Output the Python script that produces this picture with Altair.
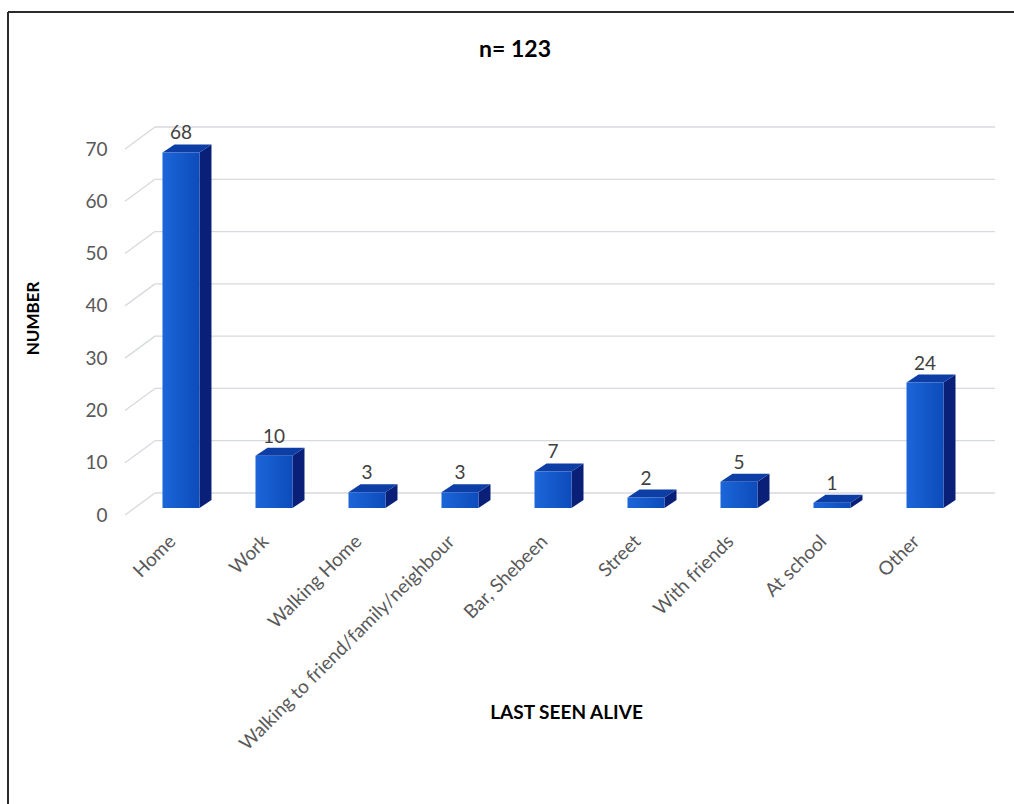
import json

import altair as alt
import pandas as pd

# ---- data -------------------------------------------------------------
categories = [
    "Home",
    "Work",
    "Walking Home",
    "Walking to friend/family/neighbour",
    "Bar, Shebeen",
    "Street",
    "With friends",
    "At school",
    "Other",
]
counts = [68, 10, 3, 3, 7, 2, 5, 1, 24]
y_ticks = [0, 10, 20, 30, 40, 50, 60, 70]
chart_title = "n= 123"
x_title = "LAST SEEN ALIVE"
y_title = "NUMBER"

# ---- geometry / style -------------------------------------------------
W, H = 840, 366                      # plot area
PAD = {"left": 125, "top": 149, "right": 1014 - 125 - W, "bottom": 804 - 149 - H}
X_MIN, X_MAX = -0.602, 8.43
Y_MAX = 70
PX_X = W / (X_MAX - X_MIN)
PX_Y = H / Y_MAX
HALF = 18.5 / PX_X                   # half width of a bar's front face
DDX = 12 / PX_X                      # bar depth, x
DDY = 8 / PX_Y                       # bar depth, y
LIFT = -7                            # bar front plane above the axis plane (px)
WALL_DX, WALL_DY = 30, -22           # back wall offset (px)

FONT = "Lato"
FRONT_L, FRONT_R = "#1c66d9", "#0d4bbb"
TOP_C = "#0c3ea6"
SIDE_C = "#0a1f78"
GRID_C = "#d6d9de"

xs = alt.Scale(domain=[X_MIN, X_MAX], nice=False, zero=False)
ys = alt.Scale(domain=[0, Y_MAX], nice=False)

idx = list(range(len(categories)))
label_expr = json.dumps(categories) + "[datum.value]"

# one axis definition per channel, shared by every layer
x_axis = alt.Axis(
    values=idx, labelExpr=label_expr, title=x_title,
    labelAngle=-45, labelAlign="right", labelBaseline="middle",
    labelPadding=23, labelOffset=-9, labelFont=FONT, labelFontSize=19,
    labelColor="#595959", labelOverlap=False, labelBound=False, labelFlush=False,
    labelLimit=0, ticks=False, domain=False, grid=False,
    titleFont=FONT, titleFontSize=19, titleFontWeight="bold", titleColor="#000000",
    titleX=441, titleY=197, titleAlign="center", titleBaseline="middle",
)
y_axis = alt.Axis(
    values=y_ticks, title=y_title, labelFont=FONT, labelFontSize=19,
    labelColor="#595959", labelPadding=18, ticks=False, domain=False, grid=False,
    titleFont=FONT, titleFontSize=17, titleFontWeight="bold", titleColor="#000000",
    titleAngle=270, titleX=-92, titleY=169, titleAlign="center", titleBaseline="middle",
)


def X(field):
    return alt.X(field, scale=xs, axis=x_axis, title=x_title)


def Y(field):
    return alt.Y(field, scale=ys, axis=y_axis, title=y_title)


# ---- tables built from the arrays -------------------------------------
front = pd.DataFrame({
    "i": idx, "cat": categories, "n": counts,
    "l": [i - HALF for i in idx], "r": [i + HALF for i in idx],
})
side_rows, top_rows = [], []
for i, n in zip(idx, counts):
    side_rows.append({"i": i, "x": i + HALF, "y": n, "y2": 0})
    side_rows.append({"i": i, "x": i + HALF + DDX, "y": n + DDY, "y2": DDY})
    top_rows.append({"i": i, "y": n, "x": i - HALF, "x2": i + HALF})
    top_rows.append({"i": i, "y": n + DDY, "x": i - HALF + DDX, "x2": i + HALF + DDX})
side = pd.DataFrame(side_rows)
top = pd.DataFrame(top_rows)
grid = pd.DataFrame({"v": y_ticks, "a": X_MIN, "b": X_MAX})

# ---- layers -----------------------------------------------------------
wall = alt.Chart(grid).mark_rule(
    color=GRID_C, strokeWidth=1.3, xOffset=WALL_DX, x2Offset=WALL_DX, yOffset=WALL_DY
).encode(x=X("a:Q"), x2="b:Q", y=Y("v:Q"))

diag = alt.Chart(grid).mark_rule(
    color=GRID_C, strokeWidth=1.3, x2Offset=WALL_DX, y2Offset=WALL_DY
).encode(x=X("a:Q"), x2="a:Q", y=Y("v:Q"), y2="v:Q")

side_face = alt.Chart(side).mark_area(
    orient="vertical", color=SIDE_C, yOffset=LIFT, y2Offset=LIFT
).encode(x=X("x:Q"), y=Y("y:Q"), y2="y2:Q", detail="i:N")

top_face = alt.Chart(top).mark_area(
    orient="horizontal", color=TOP_C, yOffset=LIFT
).encode(y=Y("y:Q"), x=X("x:Q"), x2="x2:Q", detail="i:N")

front_face = alt.Chart(front).mark_rect(
    yOffset=LIFT, y2Offset=LIFT,
    color=alt.Gradient(
        gradient="linear",
        stops=[alt.GradientStop(color=FRONT_L, offset=0),
               alt.GradientStop(color=FRONT_R, offset=1)],
        x1=0, x2=1, y1=0, y2=0,
    ),
).encode(x=X("l:Q"), x2="r:Q", y=Y("n:Q"), y2=alt.datum(0))

values = alt.Chart(front).mark_text(
    font=FONT, fontSize=19, color="#404040", baseline="middle", dy=-26
).encode(x=X("i:Q"), y=Y("n:Q"), text="n:Q")

heading = alt.Chart(pd.DataFrame({"t": [chart_title]})).mark_text(
    font=FONT, fontSize=23, fontWeight="bold", color="#000000", baseline="middle"
).encode(x=alt.value(515 - PAD["left"]), y=alt.value(50 - PAD["top"]), text="t:N")

# frame around the figure
frame_top = alt.Chart(pd.DataFrame({"k": [0]})).mark_rule(color="#2b2b2b", strokeWidth=2).encode(
    x=alt.value(8 - PAD["left"]), x2=alt.value(1014 - PAD["left"] + 20), y=alt.value(12 - PAD["top"])
)
frame_left = alt.Chart(pd.DataFrame({"k": [0]})).mark_rule(color="#2b2b2b", strokeWidth=2).encode(
    x=alt.value(8 - PAD["left"]), y=alt.value(12 - PAD["top"]), y2=alt.value(804 - PAD["top"] + 20)
)

chart = alt.layer(
    wall, diag, side_face, top_face, front_face, values, heading, frame_top, frame_left
).properties(
    width=W, height=H, padding=PAD, autosize=alt.AutoSizeParams(type="none"),
    background="#ffffff",
).configure_view(stroke=None)

chart.save("out.html", embed_options={"renderer": "svg", "actions": False})
